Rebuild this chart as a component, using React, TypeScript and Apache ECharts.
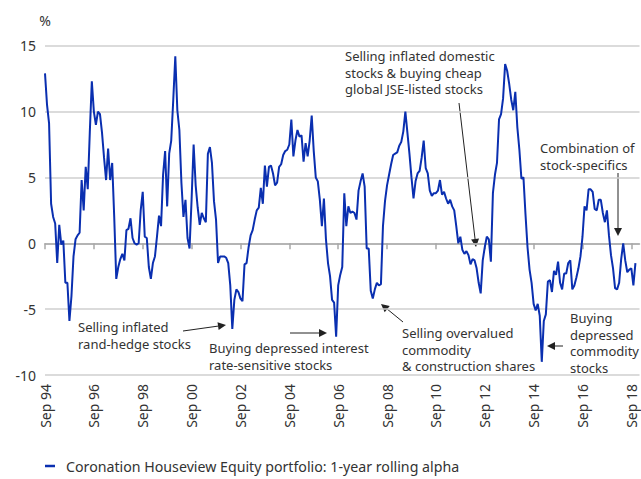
import React, { useEffect, useRef } from "react";
import * as echarts from "echarts";

// Monthly 1-year rolling alpha (%), Sep 1994 onwards
const alpha: number[] = [
  12.9, 10.5, 9.1, 3.0, 2.0, 1.5, -1.5, 1.4, -0.1, 0.2,
  -3.0, -3.0, -5.9, -4.0, -1.0, 0.3, 0.6, 0.8, 4.8, 2.5,
  5.8, 4.1, 8.4, 12.3, 10.0, 9.0, 10.0, 9.8, 8.4, 6.5,
  4.8, 7.2, 4.8, 6.1, 2.0, -2.7, -1.8, -1.2, -0.8, -1.3,
  1.0, 1.1, 1.9, 0.4, 0.0, -0.1, 0.0, 2.5, 3.9, 0.5,
  0.4, -1.8, -2.7, -1.5, -1.0, 0.5, 2.1, 1.3, 5.2, 7.0,
  2.8, 6.8, 7.8, 10.9, 14.2, 10.1, 8.6, 4.6, 2.0, 3.3,
  0.4, -0.4, 3.3, 7.5, 4.4, 2.7, 1.4, 2.3, 1.9, 1.6,
  6.8, 7.3, 6.1, 3.2, 1.8, -1.5, -1.0, -1.0, -1.0, -1.1,
  -1.5, -3.2, -6.5, -4.3, -3.5, -3.7, -4.2, -4.4, -1.6, -1.5,
  -0.3, 0.6, 1.0, 1.8, 2.5, 2.7, 4.2, 3.0, 5.9, 4.3,
  5.8, 5.9, 5.3, 4.4, 4.6, 5.8, 6.0, 6.7, 7.0, 7.1,
  7.5, 9.4, 6.6, 7.8, 8.6, 8.1, 8.2, 6.2, 7.6, 6.6,
  7.8, 9.7, 7.0, 5.0, 4.7, 3.3, 1.3, 3.4, 0.3, -1.5,
  -2.5, -4.3, -4.5, -7.1, -3.2, -2.4, -1.8, 3.8, 1.3, 2.8,
  2.3, 2.4, 2.3, 1.8, 4.0, 4.7, 5.3, 4.3, -0.4, -0.4,
  -3.6, -4.2, -3.5, -3.0, -3.2, -3.1, 1.3, 3.2, 4.4, 5.2,
  6.0, 6.7, 6.8, 6.9, 7.4, 7.7, 8.5, 10.0, 8.4, 6.8,
  5.0, 3.4, 4.7, 5.3, 5.5, 6.5, 7.8, 5.7, 5.3, 4.0,
  3.6, 3.8, 3.8, 4.0, 4.8, 3.7, 3.9, 3.4, 3.0, 3.3,
  2.8, 2.5, 1.3, 0.0, 0.5, -0.5, -0.8, -0.6, -0.9, -1.6,
  -1.2, -1.3, -1.9, -3.0, -3.8, -1.3, -0.3, 0.5, 0.3, -1.4,
  3.8, 5.2, 6.1, 9.4, 9.8, 11.0, 13.6, 13.1, 12.1, 10.9,
  10.1, 11.5, 8.8, 7.1, 4.9, 5.0, 2.2, -0.3, -2.0, -3.0,
  -4.6, -5.1, -4.6, -5.5, -9.0, -5.9, -5.4, -2.9, -2.8, -3.7,
  -2.1, -2.4, -1.4, -3.0, -3.5, -2.3, -2.3, -1.5, -1.3, -3.5,
  -3.2, -2.6, -1.9, -1.0, 0.5, 2.8, 2.5, 4.1, 4.1, 3.9,
  2.6, 2.5, 3.3, 3.3, 2.3, 1.6, 2.5, 0.6, -0.9, -1.9,
  -3.4, -3.5, -3.0, -1.2, 0.0, -1.3, -2.2, -2.0, -1.9, -3.2,
  -1.5,
];

const monthNames = ["Jan", "Feb", "Mar", "Apr", "May", "Jun", "Jul", "Aug", "Sep", "Oct", "Nov", "Dec"];
const monthCount = 293;
const months: string[] = [];
for (let i = 0; i < monthCount; i++) {
  const mi = (8 + i) % 12;
  const yr = (1994 + Math.floor((8 + i) / 12)) % 100;
  months.push(monthNames[mi] + " " + String(yr).padStart(2, "0"));
}

const yTicks = { min: -10, max: 15, interval: 5 };
const seriesName = "Coronation Houseview Equity portfolio: 1-year rolling alpha";

const annotations = [
  { text: "Selling inflated\nrand-hedge stocks", x: 78, y: 319 },
  { text: "Buying depressed interest\nrate-sensitive stocks", x: 209, y: 340 },
  { text: "Selling overvalued\ncommodity\n& construction shares", x: 402, y: 325 },
  { text: "Selling inflated domestic\nstocks & buying cheap\nglobal JSE-listed stocks", x: 345, y: 48 },
  { text: "Combination of\nstock-specifics", x: 540, y: 140 },
  { text: "Buying\ndepressed\ncommodity\nstocks", x: 570, y: 310 },
];

const arrows = [
  [183, 331, 226, 325],
  [290, 333, 327, 333],
  [403, 322, 381, 304],
  [459, 103, 476, 247],
  [618, 173, 618, 236],
  [563, 346, 547, 346],
];

const FONT = "'Noto Sans', Lato, sans-serif";
const TEXT_COLOR = "#333333";

function buildGraphics() {
  const els: any[] = [];
  annotations.forEach((a) => {
    els.push({
      type: "text",
      x: a.x,
      y: a.y,
      style: {
        text: a.text,
        fontSize: 13,
        fontFamily: FONT,
        fill: TEXT_COLOR,
        lineHeight: 16.5,
        verticalAlign: "top",
        align: "left",
      },
    });
  });
  arrows.forEach(([x1, y1, x2, y2]) => {
    const dx = x2 - x1;
    const dy = y2 - y1;
    const len = Math.sqrt(dx * dx + dy * dy);
    const ux = dx / len;
    const uy = dy / len;
    const hl = 8;
    const hw = 4;
    const bx = x2 - ux * hl;
    const by = y2 - uy * hl;
    els.push({
      type: "line",
      shape: { x1, y1, x2: bx, y2: by },
      style: { stroke: "#222", lineWidth: 1 },
    });
    els.push({
      type: "polygon",
      shape: {
        points: [
          [x2, y2],
          [bx - uy * hw, by + ux * hw],
          [bx + uy * hw, by - ux * hw],
        ],
      },
      style: { fill: "#222" },
    });
  });
  return els;
}

export default function App() {
  const ref = useRef<HTMLDivElement>(null);
  useEffect(() => {
    if (!ref.current) return;
    const chart = echarts.init(ref.current, null, { renderer: "svg" });
    const showEvery = (idx: number) => idx % 24 === 0;
    chart.setOption({
      animation: false,
      backgroundColor: "#ffffff",
      textStyle: { fontFamily: FONT },
      grid: { left: 45, right: 1.5, top: 45.7, bottom: 104, containLabel: false },
      legend: {
        data: [seriesName],
        left: 45,
        top: 459,
        padding: 0,
        icon: "rect",
        itemWidth: 10,
        itemHeight: 2.5,
        textStyle: { fontSize: 14.2, color: TEXT_COLOR, fontFamily: FONT, padding: [0, 0, 0, 6] },
      },
      xAxis: {
        type: "category",
        data: months,
        boundaryGap: false,
        axisLine: { show: true, lineStyle: { color: "#a8a8a8", width: 1.5 } },
        axisTick: { show: true, interval: showEvery, length: 6, lineStyle: { color: "#a8a8a8", width: 1.5 } },
        axisLabel: {
          interval: showEvery,
          rotate: 90,
          fontSize: 14,
          color: TEXT_COLOR,
          fontFamily: FONT,
          margin: 9,
        },
        splitLine: { show: false },
      },
      yAxis: {
        type: "value",
        min: yTicks.min,
        max: yTicks.max,
        interval: yTicks.interval,
        name: "%",
        nameLocation: "end",
        nameGap: 18,
        nameTextStyle: { fontSize: 14, color: TEXT_COLOR, fontFamily: FONT, align: "center" },
        axisLine: { show: false },
        axisTick: { show: false },
        axisLabel: { fontSize: 14, color: TEXT_COLOR, fontFamily: FONT, margin: 9 },
        splitLine: { lineStyle: { color: "#cfcfcf", width: 1.5 } },
      },
      series: [
        {
          name: seriesName,
          type: "line",
          data: alpha,
          showSymbol: false,
          symbol: "none",
          lineStyle: { color: "#0a2fb0", width: 2 },
          itemStyle: { color: "#0a2fb0" },
        },
      ],
      graphic: buildGraphics(),
    });
    return () => chart.dispose();
  }, []);
  return (
    <div
      ref={ref}
      style={{ position: "fixed", left: 0, top: 0, width: 641, height: 479, background: "#fff" }}
    />
  );
}
